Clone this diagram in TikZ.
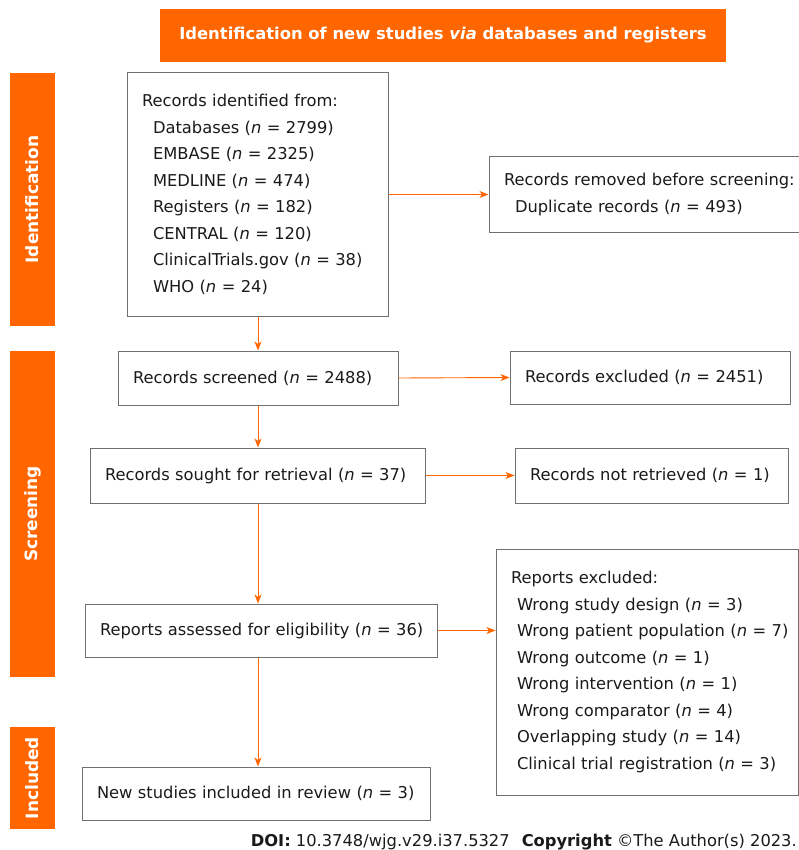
\documentclass[tikz,border=0pt]{standalone}
\usepackage{fontspec}
\setmainfont{DejaVu Sans}
\usetikzlibrary{arrows.meta}
\definecolor{orng}{HTML}{FF6600}
\definecolor{bordr}{HTML}{707070}
\definecolor{txt}{HTML}{1A1A1A}
\newcommand{\nn}{\textit{n}}
\tikzset{
  flowbox/.style={draw=bordr, line width=1pt, inner xsep=15pt, inner ysep=0pt, align=left, text=txt,
    font=\fontsize{16.3}{26.5}\selectfont},
  phasebar/.style={fill=orng, draw=none, text=white, font=\bfseries\fontsize{17}{19}\selectfont},
  arr/.style={draw=orng, line width=0.9pt, -{Stealth[length=9pt,width=7pt,inset=2.5pt]}},
}
\begin{document}
\begin{tikzpicture}[x=1pt,y=-1pt]
\useasboundingbox (0,0) rectangle (799,850);
% header
\node[phasebar, minimum width=566pt, minimum height=53pt, inner sep=0pt] (head) at (443,35.5)
  {\fontsize{16.4}{18}\selectfont Identification of new studies \textit{via} databases and registers};
% phase bars
\node[phasebar, minimum height=45pt, minimum width=253pt, inner sep=0pt, rotate=90] (phid) at (32.5,199.5) {Identification};
\node[phasebar, minimum height=45pt, minimum width=326pt, inner sep=0pt, rotate=90] (phsc) at (32.5,514) {Screening};
\node[phasebar, minimum height=45pt, minimum width=102pt, inner sep=0pt, rotate=90] (phin) at (32.5,778) {Included};
% boxes
\node[flowbox, text width=231pt, minimum height=243pt] (ident) at (257.5,194.5)
  {Records identified from:\\
   \hspace*{11pt}Databases (\nn{} = 2799)\\
   \hspace*{11pt}EMBASE (\nn{} = 2325)\\
   \hspace*{11pt}MEDLINE (\nn{} = 474)\\
   \hspace*{11pt}Registers (\nn{} = 182)\\
   \hspace*{11pt}CENTRAL (\nn{} = 120)\\
   \hspace*{11pt}ClinicalTrials.gov (\nn{} = 38)\\
   \hspace*{11pt}WHO (\nn{} = 24)};
\node[flowbox, text width=280pt, minimum height=75pt] (removed) at (644,194.5)
  {\mbox{Records removed before screening:}\\
   \hspace*{11pt}Duplicate records (\nn{} = 493)};
\node[flowbox, text width=250pt, minimum height=54pt] (screened) at (258,378) {\mbox{Records screened (\nn{} = 2488)}};
\node[flowbox, text width=250pt, minimum height=53pt] (excluded) at (650,377.5) {\mbox{Records excluded (\nn{} = 2451)}};
\node[flowbox, text width=305pt, minimum height=55pt] (sought) at (257.5,475.5) {\mbox{Records sought for retrieval (\nn{} = 37)}};
\node[flowbox, text width=243pt, minimum height=55pt] (notret) at (651.5,475.5) {\mbox{Records not retrieved (\nn{} = 1)}};
\node[flowbox, text width=322pt, minimum height=53pt] (assessed) at (261,630.5) {\mbox{Reports assessed for eligibility (\nn{} = 36)}};
\node[flowbox, text width=272pt, minimum height=246pt] (rexcl) at (647,672)
  {Reports excluded:\\
   \hspace*{6pt}Wrong study design (\nn{} = 3)\\
   \hspace*{6pt}\mbox{Wrong patient population (\nn{} = 7)}\\
   \hspace*{6pt}Wrong outcome (\nn{} = 1)\\
   \hspace*{6pt}Wrong intervention (\nn{} = 1)\\
   \hspace*{6pt}Wrong comparator (\nn{} = 4)\\
   \hspace*{6pt}Overlapping study (\nn{} = 14)\\
   \hspace*{6pt}\mbox{Clinical trial registration (\nn{} = 3)}};
\node[flowbox, text width=318pt, minimum height=53pt] (included) at (256,793.5) {\mbox{New studies included in review (\nn{} = 3)}};
% arrows
\draw[arr] (ident.south -| 258,0) -- (258,0 |- screened.north);
\draw[arr] (ident.east) -- (removed.west);
\draw[arr] (screened.east) -- (excluded.west);
\draw[arr] (258,0 |- screened.south) -- (258,0 |- sought.north);
\draw[arr] (sought.east) -- (notret.west);
\draw[arr] (258,0 |- sought.south) -- (258,0 |- assessed.north);
\draw[arr] (assessed.east) -- (assessed.east -| rexcl.west);
\draw[arr] (258,0 |- assessed.south) -- (258,0 |- included.north);
% footer
\node[anchor=base east, inner sep=0pt, text=txt, font=\fontsize{16.3}{18}\selectfont] (doi) at (797,846)
  {\textbf{DOI:} 10.3748/wjg.v29.i37.5327\hspace{12pt}\textbf{Copyright} ©The Author(s) 2023.};
\end{tikzpicture}
\end{document}
